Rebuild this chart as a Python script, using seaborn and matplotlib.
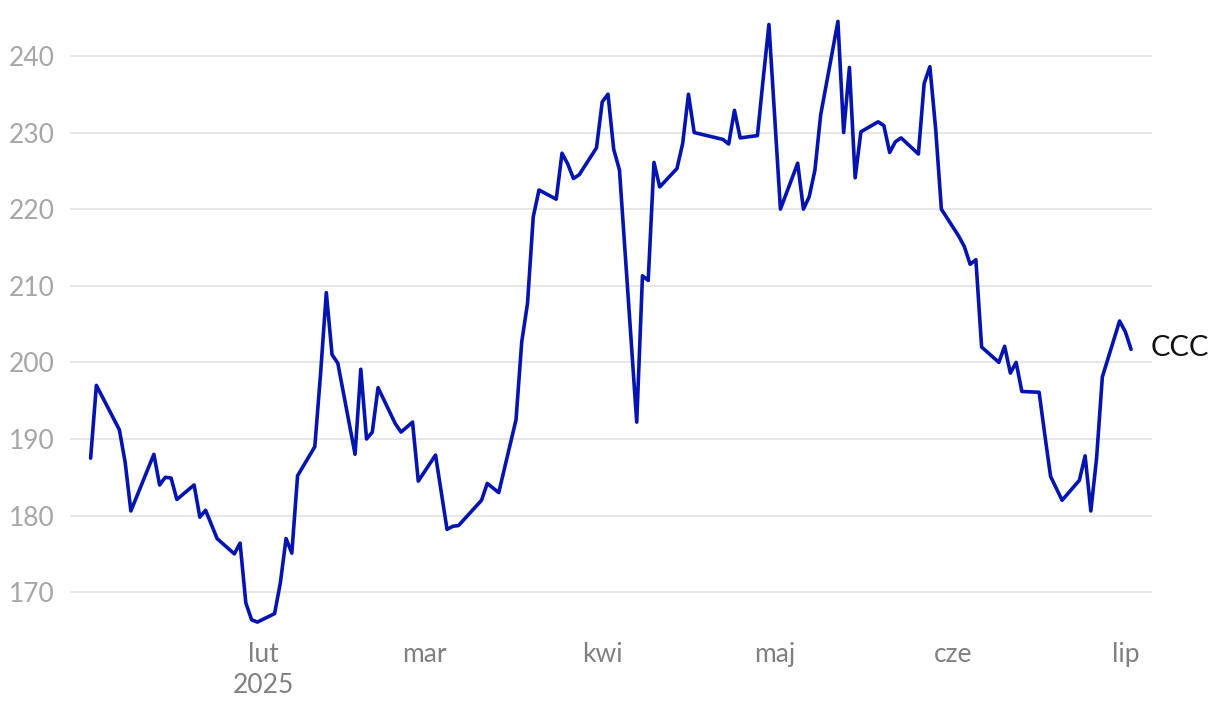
import numpy as np
import pandas as pd
import matplotlib.pyplot as plt
import matplotlib.dates as mdates
import seaborn as sns

# values
dates = [
    "2025-01-02", "2025-01-03", "2025-01-07", "2025-01-08", "2025-01-09",
    "2025-01-13", "2025-01-14", "2025-01-15", "2025-01-16", "2025-01-17",
    "2025-01-20", "2025-01-21", "2025-01-22", "2025-01-24", "2025-01-27",
    "2025-01-28", "2025-01-29", "2025-01-30", "2025-01-31", "2025-02-03",
    "2025-02-04", "2025-02-05", "2025-02-06", "2025-02-07", "2025-02-10",
    "2025-02-11", "2025-02-12", "2025-02-13", "2025-02-14", "2025-02-17",
    "2025-02-18", "2025-02-19", "2025-02-20", "2025-02-21", "2025-02-24",
    "2025-02-25", "2025-02-27", "2025-02-28", "2025-03-03", "2025-03-05",
    "2025-03-06", "2025-03-07", "2025-03-11", "2025-03-12", "2025-03-14",
    "2025-03-17", "2025-03-18", "2025-03-19", "2025-03-20", "2025-03-21",
    "2025-03-24", "2025-03-25", "2025-03-26", "2025-03-27", "2025-03-28",
    "2025-03-31", "2025-04-01", "2025-04-02", "2025-04-03", "2025-04-04",
    "2025-04-07", "2025-04-08", "2025-04-09", "2025-04-10", "2025-04-11",
    "2025-04-14", "2025-04-15", "2025-04-16", "2025-04-17", "2025-04-22",
    "2025-04-23", "2025-04-24", "2025-04-25", "2025-04-28", "2025-04-29",
    "2025-04-30", "2025-05-02", "2025-05-05", "2025-05-06", "2025-05-07",
    "2025-05-08", "2025-05-09", "2025-05-12", "2025-05-13", "2025-05-14",
    "2025-05-15", "2025-05-16", "2025-05-19", "2025-05-20", "2025-05-21",
    "2025-05-22", "2025-05-23", "2025-05-26", "2025-05-27", "2025-05-28",
    "2025-05-29", "2025-05-30", "2025-06-02", "2025-06-03", "2025-06-04",
    "2025-06-05", "2025-06-06", "2025-06-09", "2025-06-10", "2025-06-11",
    "2025-06-12", "2025-06-13", "2025-06-16", "2025-06-17", "2025-06-18",
    "2025-06-20", "2025-06-23", "2025-06-24", "2025-06-25", "2025-06-26",
    "2025-06-27", "2025-06-30", "2025-07-01", "2025-07-02",
]
values = [
    187.5, 197.0, 191.2, 187.0, 180.6,
    188.0, 184.0, 185.0, 184.9, 182.1,
    184.0, 179.8, 180.7, 177.0, 175.0,
    176.4, 168.6, 166.4, 166.1, 167.2,
    171.2, 177.0, 175.1, 185.2, 189.0,
    198.5, 209.1, 201.0, 199.9, 188.0,
    199.1, 190.0, 190.9, 196.7, 192.0,
    190.9, 192.2, 184.5, 187.9, 178.2,
    178.6, 178.7, 182.0, 184.2, 183.0,
    192.5, 202.7, 207.7, 219.0, 222.5,
    221.3, 227.3, 225.9, 224.0, 224.5,
    228.0, 234.0, 235.0, 227.8, 225.1,
    192.2, 211.3, 210.7, 226.1, 222.9,
    225.3, 228.6, 235.0, 230.0, 229.1,
    228.5, 232.9, 229.3, 229.6, 237.0,
    244.1, 220.0, 226.0, 220.0, 221.6,
    225.1, 232.3, 244.5, 230.0, 238.5,
    224.1, 230.1, 231.4, 230.9, 227.4,
    228.8, 229.3, 227.2, 236.4, 238.6,
    230.5, 220.0, 216.5, 215.1, 212.8,
    213.4, 202.0, 200.0, 202.1, 198.6,
    200.0, 196.2, 196.1, 190.5, 185.1,
    182.0, 184.6, 187.8, 180.6, 187.5,
    198.1, 205.4, 204.0, 201.7,
]
series_name = "CCC"
month_ticks = ["2025-02-01", "2025-03-01", "2025-04-01", "2025-05-01", "2025-06-01", "2025-07-01"]
month_labels = ["lut\n2025", "mar", "kwi", "maj", "cze", "lip"]
y_ticks = [170, 180, 190, 200, 210, 220, 230, 240]

df = pd.DataFrame({"date": pd.to_datetime(dates), "value": values})

sns.set_theme(style="white")
plt.rcParams["font.family"] = ["Lato", "DejaVu Sans"]

fig = plt.figure(figsize=(12.2, 7.12), dpi=100)
ax = fig.add_axes([0.0574, 0.122, 0.8866, 0.864])

sns.lineplot(data=df, x="date", y="value", ax=ax, color="#0414b0",
             linewidth=2.6, zorder=3)

ax.set_xlim(pd.Timestamp("2024-12-29 10:00"), pd.Timestamp("2025-07-05 14:00"))
ax.set_ylim(165.7, 246.0)

ax.set_yticks(y_ticks)
ax.set_yticklabels([str(t) for t in y_ticks])
ax.set_xticks(pd.to_datetime(month_ticks))
ax.set_xticklabels(month_labels, linespacing=1.3)

ax.grid(axis="y", color="#e3e3e3", linewidth=1.2, zorder=0)
ax.grid(axis="x", visible=False)
for s in ax.spines.values():
    s.set_visible(False)

ax.tick_params(axis="y", length=0, labelsize=19, labelcolor="#a6a6a6", pad=11)
ax.tick_params(axis="x", length=0, labelsize=19, labelcolor="#808080", pad=12)
for lbl in ax.get_xticklabels():
    lbl.set_verticalalignment("top")

ax.set_xlabel("")
ax.set_ylabel("")

# end label
ax.annotate(series_name, xy=(df["date"].iloc[-1], df["value"].iloc[-1]),
            xytext=(14, 1), textcoords="offset points",
            fontsize=21, color="#111111", va="center", ha="left",
            annotation_clip=False)

plt.savefig("out.png", dpi=100)
